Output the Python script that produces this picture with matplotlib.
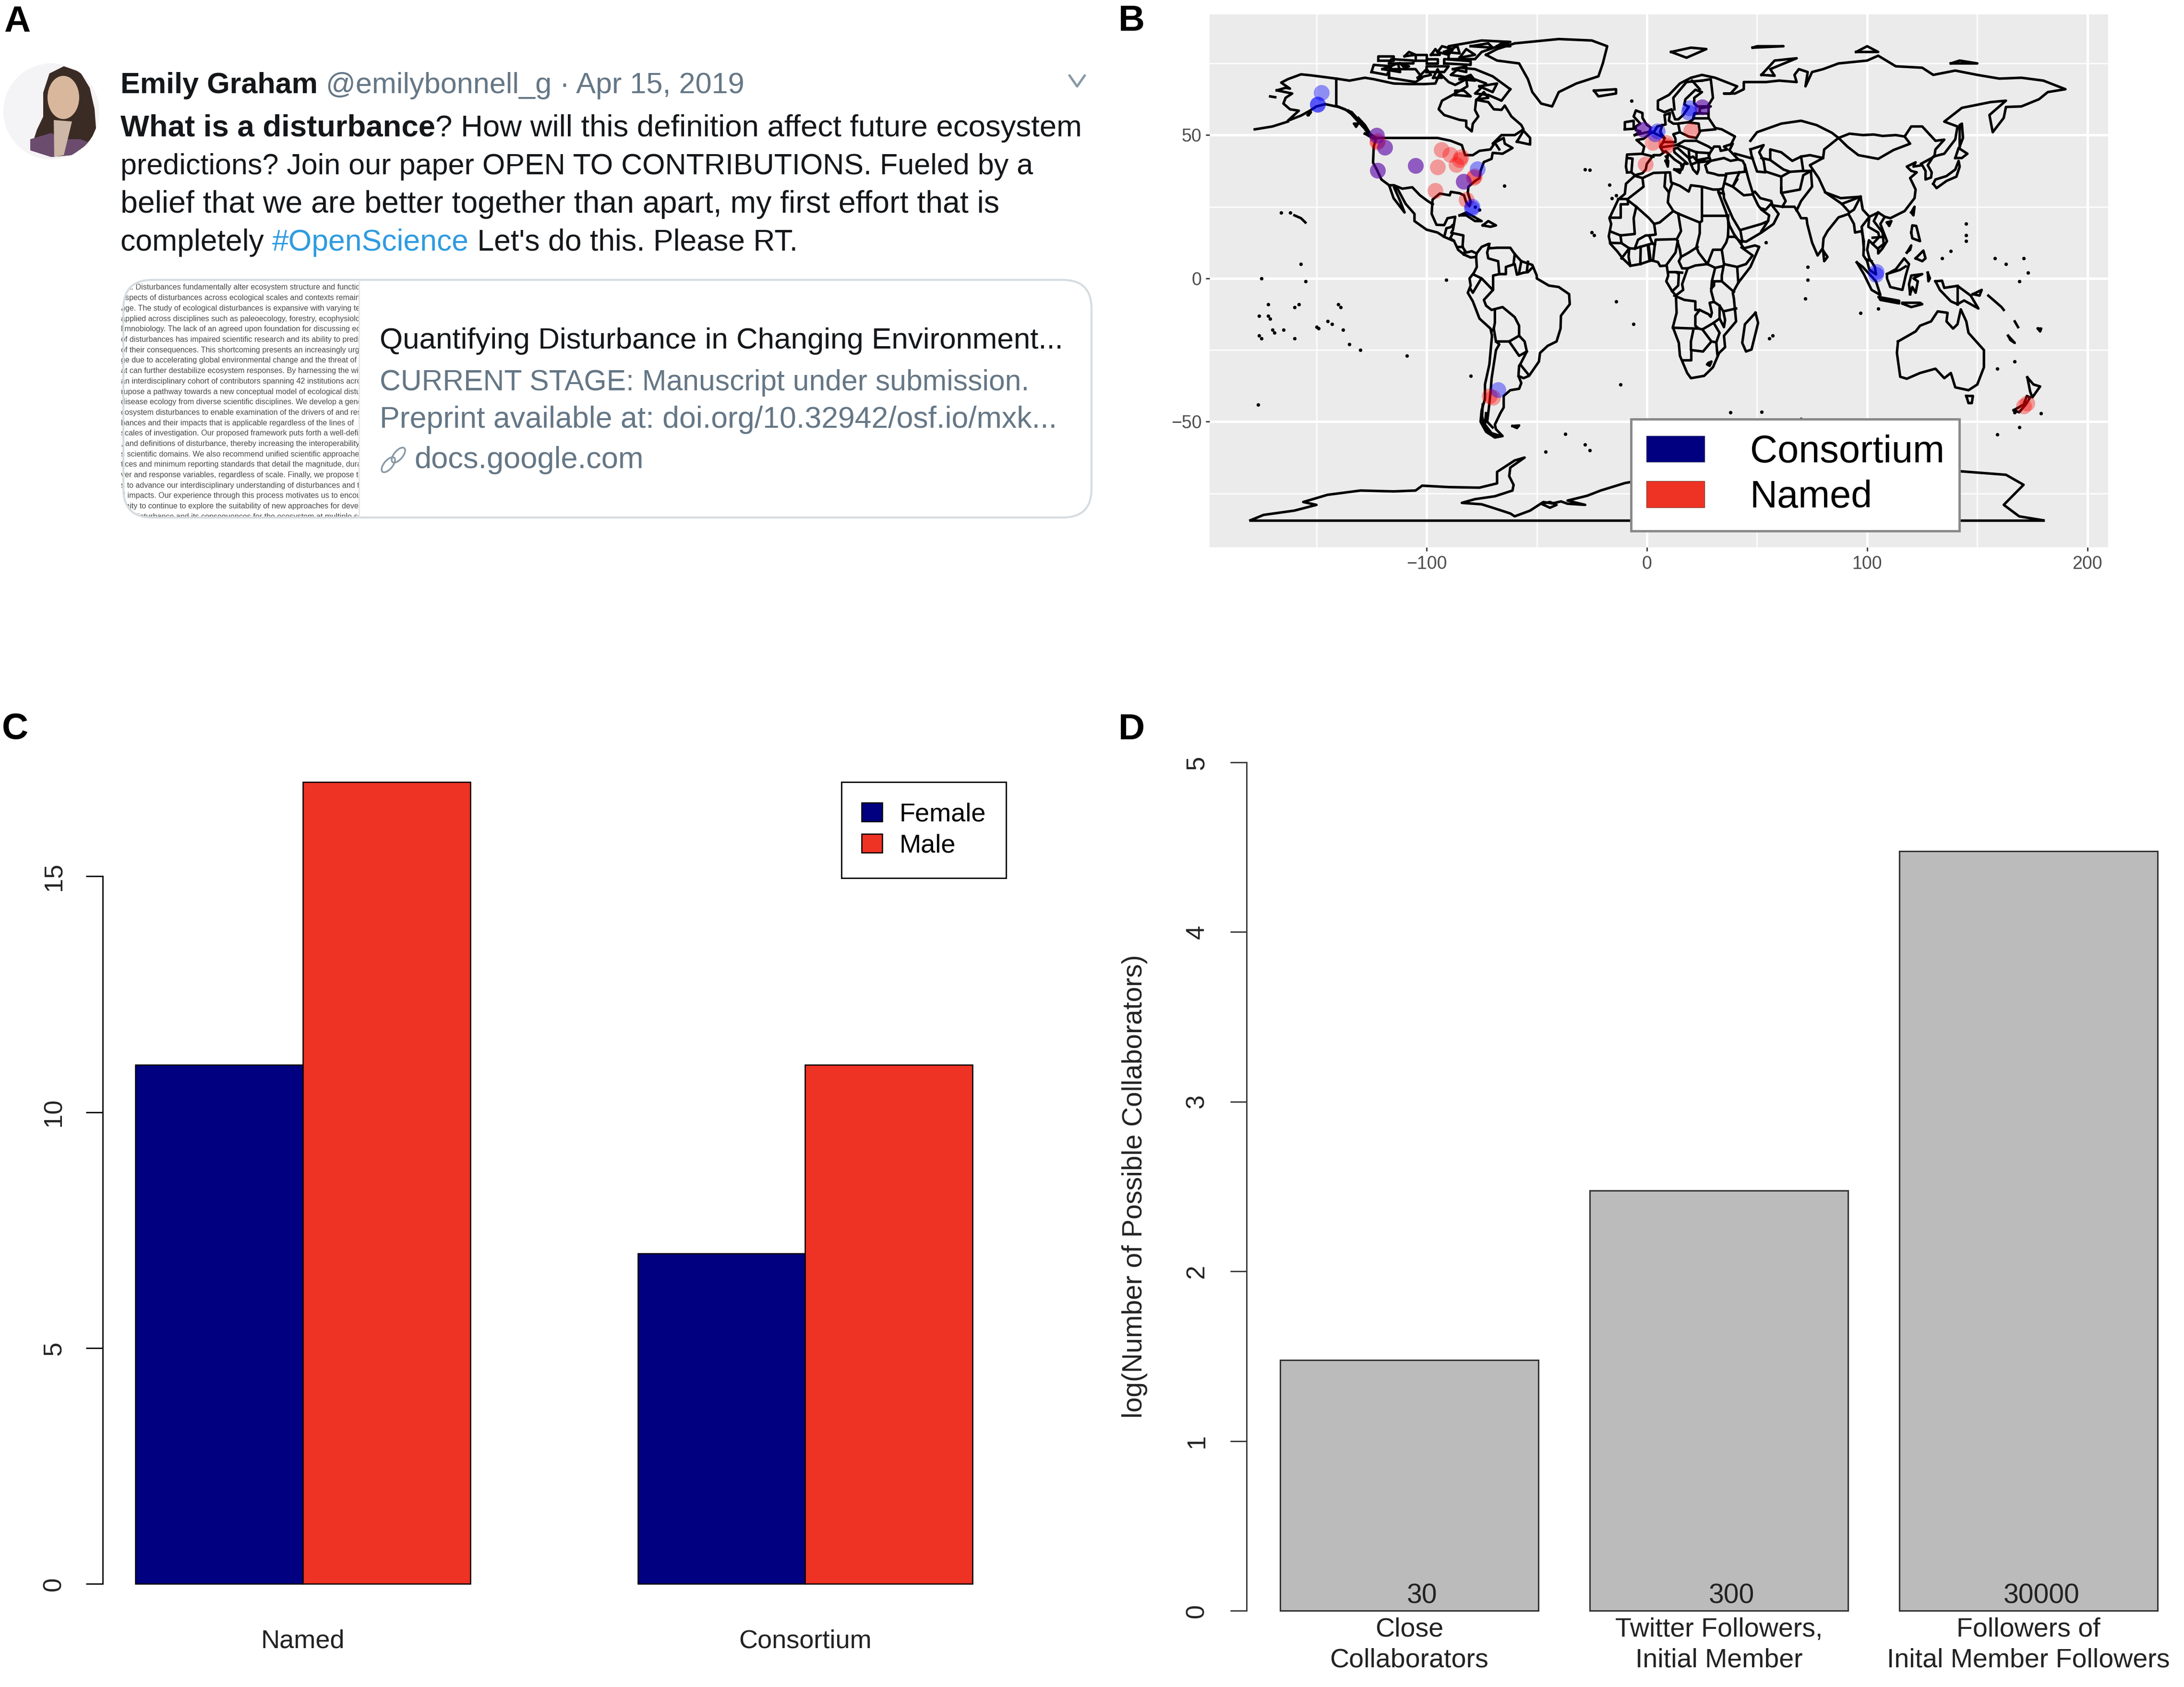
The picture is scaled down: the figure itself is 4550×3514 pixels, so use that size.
import matplotlib
matplotlib.use('Agg')
import matplotlib.pyplot as plt
from matplotlib.patches import Patch, Circle, Ellipse, Polygon, FancyBboxPatch
from matplotlib.transforms import Bbox, TransformedBbox

plt.rcParams['font.family'] = ['Liberation Sans', 'DejaVu Sans']

W, H = 4550, 3514

# ---- panel C data
gender_groups = ['Named', 'Consortium']
female_counts = [11, 7]
male_counts = [17, 11]

# ---- panel D data
collab_labels = ['Close\nCollaborators', 'Twitter Followers,\nInitial Member',
                 'Followers of\nInital Member Followers']
collab_log = [1.477, 2.477, 4.477]
collab_counts = ['30', '300', '30000']

# ---- panel B data, (lon, lat)
consortium_sites = [(-147.7, 64.8), (-149.4, 60.6), (-149.4, 60.8), (-122.6, 49.9), (-119, 45.7),
                    (-122.2, 37.7), (-105, 39.4), (-83.2, 33.8), (-77, 38.2), (-79.3, 25.1),
                    (-79.6, 24.5), (-1.5, 51.9), (4.8, 51.4), (3.6, 50.4), (19.4, 59.5), (19.0, 58.0),
                    (25, 59.8), (103.9, 1.4), (104.2, 2.4), (-67.5, -38.9)]
named_sites = [(-122.6, 49.9), (-122.2, 48), (-122.4, 47.6), (-119, 45.7), (-122.2, 37.7), (-105, 39.4),
               (-93.2, 44.9), (-95, 38.9), (-96, 30.7), (-89.3, 43.2), (-84.3, 42.4), (-85, 41.4),
               (-86.5, 39.7), (-83.2, 33.8), (-78.2, 35.7), (-78.6, 35.2), (-82, 27.4), (-1.5, 51.9),
               (2.6, 47.4), (8.7, 47.4), (8.9, 46.2), (-0.7, 39.9), (25, 59.8), (20, 51.6),
               (-70, -41.5), (-71.5, -41), (172.5, -43.5), (171, -44.5)]

# coastlines
coast_north_america = [
    (-168, 65.6), (-164, 66.5), (-162, 66.2), (-166, 68.3), (-163, 69.5), (-157, 71.2), (-152, 70.8),
    (-141, 69.7), (-135, 69), (-128, 70), (-124, 69.5), (-115, 68), (-108, 67.8), (-101, 67.8), (-96, 68),
    (-94, 71.5), (-90, 68.5), (-87, 67.5), (-82, 69.5), (-81.5, 67), (-87, 64.5), (-93, 62), (-94.5, 59),
    (-92, 57), (-85, 55.3), (-82, 55), (-82, 52.9), (-79.5, 51.3), (-79, 54), (-76.5, 56.5), (-78, 58.7),
    (-77.5, 62.3), (-72, 61.5), (-69.5, 59), (-66, 58.8), (-64.5, 60.3), (-61.5, 56.5), (-57, 53.5),
    (-56, 52), (-60, 50), (-66, 50), (-70, 47), (-65, 49), (-64.5, 47), (-61, 45.5), (-65.5, 43.5),
    (-70, 43.8), (-70.5, 41.7), (-74, 40.6), (-75.5, 37.5), (-76, 35), (-78, 34), (-81, 32), (-81.3, 30),
    (-80, 26.8), (-80.5, 25.2), (-82, 26.5), (-83, 29), (-85, 29.7), (-89, 30.2), (-89.5, 29), (-94, 29.6),
    (-97.3, 27.5), (-97.7, 22.5), (-95.5, 18.7), (-92, 18.6), (-90.5, 21), (-87, 21.5), (-88, 17),
    (-88.8, 15.9), (-83.3, 15), (-83.7, 11), (-82, 9), (-79.5, 9.5), (-77.3, 8.7), (-77.5, 7.5), (-80, 7.3),
    (-83, 8.3), (-85.7, 10), (-87.5, 13), (-92, 14.5), (-95, 16), (-100, 17), (-105.5, 20), (-105.5, 22.5),
    (-109.5, 26), (-113, 31), (-114.8, 31.8), (-112, 27), (-110, 23), (-112, 25), (-115, 28), (-117, 32.5),
    (-120.5, 34.5), (-122.5, 37.8), (-124.3, 40.4), (-124, 46), (-122.8, 49), (-127, 51), (-130.5, 55),
    (-134, 58), (-140, 59.8), (-146, 60.8), (-150, 60), (-153, 58.5), (-157, 56.8), (-163, 55), (-158, 58.5),
    (-162, 59), (-165, 61), (-164, 63), (-161, 64.5), (-168, 65.6)]
coast_south_america = [
    (-77.3, 8.7), (-75, 11), (-72, 12), (-71.5, 10.5), (-68, 10.7), (-62, 10.7), (-60, 8.5), (-57, 6),
    (-52, 4.7), (-50, 1), (-50, 0), (-44.5, -2.5), (-40, -3), (-35.3, -5.5), (-35, -9), (-39, -13),
    (-39.2, -17.5), (-41, -22), (-45, -23.5), (-48.5, -26), (-49, -29), (-53.5, -34), (-56, -34.8),
    (-58.3, -34), (-57, -36.5), (-58, -38.5), (-62, -39), (-65, -41), (-65, -45), (-66.5, -47), (-69, -51),
    (-68.5, -52.6), (-65.5, -55), (-69, -55.5), (-73, -53.5), (-75.5, -50), (-75, -46), (-73.5, -42),
    (-73.5, -37), (-71.5, -30), (-70.3, -20), (-71, -17.5), (-76, -14), (-79, -8), (-81.3, -5), (-80, -2.5),
    (-80.5, 0), (-78.5, 2), (-77.2, 4), (-77.5, 7.5)]
coast_eurasia = [
    (-9, 37), (-9.5, 39), (-9, 43.2), (-2, 43.5), (-1.2, 46), (-4.7, 48.3), (-1.5, 48.7), (1.5, 50.5),
    (3.5, 51.4), (4.7, 53), (8.5, 53.7), (8, 57), (10.5, 57.7), (10, 55), (12, 54), (14, 54), (19, 54.5),
    (21, 55.5), (21.5, 57.5), (24, 57.5), (24, 59.3), (29, 60), (23, 60), (21.5, 61), (21.5, 63), (25, 65),
    (22, 65.8), (17.5, 62.5), (17, 60.7), (19, 59.8), (16.5, 57), (14.3, 55.5), (12.8, 55.5), (11.2, 59),
    (8, 58), (5, 59), (5, 62), (10, 64), (15, 68), (20, 70), (25, 71), (31, 70), (41, 67), (38, 64.5),
    (35, 64.5), (40, 64.5), (44, 66), (44, 68.5), (54, 68.5), (60, 69), (68, 68.5), (67, 71), (69, 73),
    (73, 72), (72, 67), (75, 72), (80, 73), (87, 75), (100, 76), (105, 77.7), (113, 74), (125, 73.5),
    (130, 71), (140, 72.5), (150, 71), (160, 69.7), (170, 70), (180, 69), (190, 66), (182, 65), (178, 62.5),
    (170, 60), (163, 59.8), (162, 56), (157, 51), (155.5, 57), (163, 62), (156, 61.5), (143, 59.5),
    (135, 54.7), (141, 53), (140, 48.5), (135, 43.5), (130, 42.5), (127.5, 39.5), (129.3, 37), (129, 35.2),
    (126.5, 34.5), (126.5, 37.5), (125, 39.5), (121, 39), (122, 40.5), (118, 39), (120, 37.5), (122.5, 37),
    (119.5, 35), (122, 31), (121.5, 28), (117, 23.5), (110.5, 21), (108, 21.5), (106, 19), (109, 13),
    (107, 10.5), (105, 8.7), (105, 10.2), (102.5, 12), (100.8, 13.3), (100, 10), (101, 7), (103.5, 4),
    (104, 1.4), (101, 3), (100, 6), (98.3, 8), (98.5, 13), (97.5, 16.5), (94.5, 16), (94, 19), (91.5, 22.5),
    (89, 21.8), (87, 21.3), (82, 16.5), (80.2, 14), (79.8, 10.5), (77.5, 8), (75, 12.5), (72.8, 19),
    (72.5, 21), (70, 21), (69, 22.5), (67, 25), (61.5, 25), (57, 25.5), (56.5, 27), (51.5, 28), (49, 30.3),
    (48, 29.5), (50.5, 25.5), (51.5, 24.5), (54, 24), (56.3, 26), (59.8, 22.5), (57.5, 19), (52, 16),
    (45, 12.8), (43.3, 13), (42.5, 16.5), (39, 21), (35, 28), (34.9, 29.5), (32.5, 30), (32.5, 31),
    (34.5, 31.3), (36, 36), (32.5, 36), (30.5, 36.5), (27.5, 37), (26.5, 39.5), (29, 41), (35, 42), (38, 41),
    (41.5, 41.5), (37.5, 44.7), (39, 47), (35, 46), (36.5, 45), (33.5, 44.5), (33, 46), (30.5, 46), (28, 43),
    (29, 41), (26, 40.7), (23.5, 40.5), (23.5, 38), (22.8, 36.5), (21, 38), (19.5, 41), (19, 42), (14, 45.5),
    (12.3, 45.3), (12.5, 44), (16, 41.7), (18.5, 40), (16.8, 40), (16, 38), (15.5, 40), (12.5, 41.5),
    (10.5, 43), (8.5, 44.4), (6, 43), (3, 43), (0, 40), (-0.5, 38), (-2, 36.7), (-5.5, 36), (-7, 37), (-9, 37)]
coast_africa = [
    (32.5, 31), (30, 31), (25, 32), (20, 32.5), (19, 30.3), (15, 32.3), (11, 33.5), (10.5, 37), (3, 36.8),
    (-2, 35), (-5.5, 35.8), (-9.5, 33), (-10, 29.5), (-13, 27.5), (-17, 21), (-16.2, 19), (-17.3, 14.7),
    (-16.5, 12), (-13.5, 9.5), (-11, 7), (-7.5, 4.4), (-3, 5), (2, 6.3), (5, 5.7), (6, 4.3), (9, 4.5),
    (9.7, 1), (8.8, -1), (11.5, -4.5), (13.2, -6), (13.5, -12), (11.8, -17), (14.5, -22.5), (15, -27),
    (18.3, -33), (20, -34.8), (26, -34), (30, -31), (32.8, -26), (35.5, -24), (35, -20), (40.5, -15),
    (39.5, -7), (39, -5), (41.5, -1.5), (47, 4), (51, 11), (49, 11.5), (44, 10.5), (43, 11.7), (39.5, 15.5),
    (37.5, 18.5), (36, 23), (33.5, 28), (32.5, 30), (32.5, 31)]
coast_australia = [
    (114, -22), (113.5, -26), (115, -34.3), (118, -35), (124, -33), (131, -31.5), (135, -34.8), (138, -33),
    (140, -38), (146, -39), (150, -37), (153, -31), (153, -25), (146, -19), (145, -15), (142.5, -10.8),
    (141, -16), (139, -17.5), (136, -15), (136.5, -12), (132, -11.5), (129, -15), (124, -16.5), (122, -18.5),
    (114, -22)]
coast_antarctica_base = [(180, -84.4), (-180, -84.4)]
coast_antarctica = [
    (-180, -84.4), (-174, -82.5), (-160, -81), (-150, -79), (-156, -78), (-145, -75.5), (-130, -74),
    (-115, -74.3), (-105, -74), (-102, -72.3), (-90, -72.8), (-76, -73), (-68, -71.5), (-68, -67.5),
    (-60, -63.5), (-55.5, -62.5), (-62, -66), (-62.5, -69), (-60.5, -72), (-61, -74), (-69, -76), (-78, -77),
    (-84, -78.3), (-75, -78.8), (-70, -80), (-62, -82), (-60, -83), (-53, -81), (-47, -78), (-43, -78.5),
    (-39, -77.8), (-36, -78.6), (-28, -79), (-36, -77.5), (-27, -75.8), (-21, -74), (-10, -71.4), (0, -70),
    (20, -70), (40, -69), (60, -67), (70, -68), (90, -66), (120, -66), (146, -67.5), (163, -68.5), (171, -72),
    (162, -79), (169, -83), (180, -84.4)]
islands = [
    [(-73, 78), (-68, 80), (-60, 82), (-40, 83.5), (-25, 83), (-18, 81), (-20, 75), (-22, 70.5), (-32, 68),
     (-40, 65), (-43, 60), (-48, 61), (-52, 65), (-54, 69.5), (-58, 75), (-68, 76), (-73, 78)],
    [(-62, 66), (-66, 62), (-72, 64), (-78, 64.5), (-73, 68), (-80, 70), (-89, 71), (-85, 73.5), (-78, 73),
     (-70, 70.5), (-62, 66)],
    [(-117, 70), (-105, 68.5), (-102, 70), (-105, 73), (-117, 73), (-117, 70)],
    [(-125, 72), (-118, 71), (-116, 74), (-124, 74.5), (-125, 72)],
    [(-90, 76.5), (-78, 76.5), (-75, 79), (-62, 82.5), (-75, 83), (-90, 81), (-90, 76.5)],
    [(-92, 75), (-80, 74.5), (-80, 75.8), (-92, 76.5), (-92, 75)],
    [(-95, 79), (-90, 78), (-88, 80), (-93, 81), (-95, 79)],
    [(-117, 75), (-106, 75), (-106, 76), (-116, 76.5), (-117, 75)],
    [(-100, 72), (-92, 72), (-90, 74), (-100, 74), (-100, 72)],
    [(-122, 76), (-115, 76), (-115, 77.5), (-122, 77.5), (-122, 76)],
    [(-105, 76), (-100, 76), (-100, 78), (-105, 78), (-105, 76)],
    [(-100, 75), (-95, 75), (-95, 76.5), (-100, 76.5), (-100, 75)],
    [(-87, 64), (-80, 63.5), (-83, 65.5), (-87, 65.5), (-87, 64)],
    [(-59, 47.7), (-53, 46.7), (-53, 49), (-56, 51.5), (-59, 47.7)],
    [(-85, 22), (-82, 23), (-75, 20), (-78, 20), (-82, 22), (-85, 22)],
    [(-74.5, 18.5), (-72, 20), (-68.5, 18.5), (-71, 18), (-74.5, 18.5)],
    [(-128, 50.5), (-123.5, 48.5), (-125, 50), (-128, 50.5)],
    [(-160, 22), (-157, 21), (-155, 19.5)],
    [(-5.5, 50), (1.3, 51.2), (1.7, 52.7), (0, 53.5), (-2, 56), (-2, 57.7), (-5, 58.6), (-6, 56.5), (-3, 54),
     (-5, 53), (-5, 51.7), (-3, 51.3), (-5.5, 50)],
    [(-10, 52), (-6, 52.2), (-6, 55), (-10, 54.5), (-10, 52)],
    [(-24, 65.5), (-14, 66), (-14, 64.5), (-22, 63.5), (-24, 65.5)],
    [(11, 79), (20, 80.5), (27, 80), (18, 77), (11, 79)],
    [(48, 80.5), (62, 81), (50, 81), (48, 80.5)],
    [(52, 71), (58, 70.7), (56, 73), (68, 76.8), (58, 76), (52, 71)],
    [(95, 79), (105, 79), (100, 81), (95, 79)],
    [(138, 75), (150, 75), (142, 76), (138, 75)],
    [(142, 46), (143.5, 49), (143, 54), (142, 53.5), (142, 46)],
    [(130, 33), (131, 34.5), (136, 35.7), (140, 38), (141.5, 41), (142, 39), (140.5, 35.5), (136, 34),
     (131.5, 31.5), (130, 33)],
    [(140, 42), (141.5, 45.5), (145.5, 43.5), (143, 42), (140, 42)],
    [(120, 23), (121.5, 25), (121, 22), (120, 23)],
    [(109, 19.5), (111, 20), (110, 18.3), (109, 19.5)],
    [(120, 16), (120.5, 18.5), (122.3, 18.3), (124, 13), (120.5, 14), (120, 16)],
    [(122, 7), (125.5, 9.7), (126.5, 7), (125, 6), (122, 7)],
    [(118, 9), (120, 11.5), (119.5, 10), (118, 9)],
    [(109, 1.5), (113, 3.2), (116.8, 7), (119, 5), (117.5, 1), (116, -4), (110.5, -3), (109, 0), (109, 1.5)],
    [(95.3, 5.6), (98, 4), (104, -1), (106, -5.8), (102, -4), (98.5, 1.5), (95.3, 5.6)],
    [(105.3, -6.5), (114.5, -7.8), (114.5, -8.7), (106, -7.5), (105.3, -6.5)],
    [(116, -8.5), (119, -8.5), (124, -8.5), (125, -9), (120, -10), (116, -8.8)],
    [(119.5, -5.5), (119, -2), (120, 1), (125, 1.5), (121, 0), (123, -1), (122, -5), (120.5, -3), (119.5, -5.5)],
    [(127.5, 2), (128.5, 0), (127.8, -1), (127.5, 2)],
    [(131, -1), (134, -0.8), (135, -3.3), (141, -2.6), (147, -6), (150.5, -10.5), (144, -7.7), (141, -9),
     (138, -8), (133, -4), (131, -1)],
    [(148, -5.5), (152, -4), (151, -6), (148, -5.5)],
    [(155, -6), (161, -10), (162, -11)],
    [(164, -20), (167, -22.5), (165, -21.5), (164, -20)],
    [(167, -15), (168.5, -17)],
    [(177.5, -17.5), (179, -17.5), (178.5, -18.5), (177.5, -17.5)],
    [(145, -41), (148, -41), (147.5, -43.5), (146, -43.5), (145, -41)],
    [(166.5, -46), (171, -44), (172.5, -41), (174, -41.5), (172, -44), (169, -46.7), (166.5, -46)],
    [(172.7, -34.5), (175.5, -37), (178.5, -37.7), (175, -41.5), (174, -39.5), (172.7, -34.5)],
    [(49.3, -12), (50.5, -15.5), (47.5, -24.8), (45, -25.5), (43.3, -22.5), (44.5, -16), (49.3, -12)],
    [(80, 9.7), (82, 7.5), (80.5, 6), (80, 9.7)],
    [(-61, -51.5), (-58, -51.3), (-59, -52.2), (-61, -51.5)],
    [(-48, -78.6), (-44, -78), (-41, -79), (-44, -80), (-48, -78.6)],
    [(8.5, 41), (9.7, 41), (9.5, 39), (8.5, 41)],
    [(12.5, 38), (15.5, 38), (15, 36.8), (12.5, 38)],
    [(8.7, 42.5), (9.5, 43), (9.3, 41.5), (8.7, 42.5)],
    [(-178, 52), (-170, 53), (-163, 54.7)],
    [(-171, 63.5), (-168.7, 63.2)],
    [(-154, 57), (-152.5, 58), (-153.5, 57)],
    # Canadian Arctic, small islands packed tight
    [(-112, 75), (-108, 74), (-110, 73.5), (-112, 75)],
    [(-97, 70), (-93, 70), (-95, 73), (-97, 70)],
    [(-88, 73), (-82, 72), (-82, 74), (-88, 73)],
    [(-110, 77.5), (-105, 78), (-108, 79), (-110, 77.5)],
    [(-98, 78), (-94, 78), (-96, 80), (-98, 78)],
    [(-85, 77), (-78, 78), (-82, 80), (-85, 77)],
    [(-80, 81), (-70, 80.5), (-72, 82), (-80, 81)],
    [(-85, 69.5), (-78, 69), (-80, 71), (-85, 69.5)],
    [(-76, 67), (-70, 65), (-68, 68), (-76, 67)],
    [(-120, 73), (-112, 72), (-113, 75), (-120, 73)],
    [(-92, 79), (-85, 78.5), (-86, 81), (-92, 79)],
    [(-68, 81), (-62, 81), (-65, 82.5), (-68, 81)],
    [(-104, 70), (-98, 71), (-100, 73), (-104, 70)],
    [(-77, 62.5), (-72, 63), (-74, 65), (-77, 62.5)],
    # fjord coasts
    [(-74.5, -44), (-74.8, -48), (-74, -51), (-72, -54), (-67, -55)],
    [(-73, -47), (-73.5, -51), (-70.5, -54), (-67.5, -54.7)],
    [(-125, 50), (-129, 53), (-132, 55.5), (-135.5, 58.5)],
    [(-126, 51), (-128, 53.5), (-131, 56)],
    [(-132, 53), (-131, 54), (-133, 54), (-132, 53)],
]
borders = [
    # North America
    [(-141, 69.7), (-141, 60.2), (-137, 59), (-130, 55)],
    [(-123, 49), (-95, 49), (-89, 48), (-84, 46.5), (-82.5, 43), (-79, 43), (-76, 44.5), (-71, 45), (-69, 47.3), (-67, 45)],
    [(-117, 32.5), (-114.8, 32.5), (-111, 31.3), (-106.5, 31.8), (-103, 29), (-99.5, 27), (-97.2, 25.9)],
    [(-92, 14.5), (-91, 17.5), (-89, 17.9), (-88.3, 18.5)],
    [(-88, 15.8), (-89.3, 14), (-87.7, 13.2)],
    [(-85.7, 11), (-83.7, 11)],
    [(-83, 8.3), (-82.7, 9.6)],
    # South America
    [(-51.7, 4), (-54, 2.2), (-56, 2), (-59, 1.3), (-60, 5), (-64, 4), (-64, 1.5), (-67, 1.5), (-69.8, 1), (-69.8, -4),
     (-74, -7.5), (-73, -9.5), (-70.5, -11), (-65.5, -10), (-60, -13.5), (-58, -16.5), (-58, -20), (-55.5, -22),
     (-54.5, -25.5), (-57.5, -30), (-53.5, -33.8)],
    [(-71.5, 12), (-72.5, 9), (-72, 7), (-67.5, 6), (-67, 1.5)],
    [(-60, 8.5), (-60.5, 5.2)],
    [(-57, 6), (-58, 2)],
    [(-54, 5.8), (-54.5, 2.3)],
    [(-78.8, 1.4), (-75, 0), (-70, -4)],
    [(-80.3, -3.4), (-79, -5), (-75.3, -0.2)],
    [(-69, -11), (-69, -15.5), (-69.5, -17.5), (-70.4, -18.3)],
    [(-69.5, -17.5), (-68.5, -22), (-67, -23), (-68.5, -25), (-69.5, -30), (-70.5, -35), (-71, -40), (-71.7, -45),
     (-72.5, -50), (-70, -52)],
    [(-68.5, -22), (-65, -22), (-62.5, -22), (-58, -20)],
    [(-62.5, -22), (-58, -27), (-54.5, -25.5)],
    [(-58.3, -34), (-58, -30.5), (-57.5, -30)],
    # Africa
    [(-2, 35), (-1.5, 32), (-8.7, 27.7), (-13, 27.7)],
    [(-8.7, 27.7), (-8.7, 26), (-12, 26), (-12, 21.3), (-17, 21.3)],
    [(-8.7, 27.3), (-4.8, 25), (-6, 21), (-5.5, 15.5), (-12, 15), (-16.3, 16.3)],
    [(-4.8, 25), (1, 21), (3.3, 19), (5.8, 19.5), (12, 23.5), (9.5, 26.5), (10, 30), (8, 32), (8.5, 36.8)],
    [(11.5, 33), (10, 30)],
    [(12, 23.5), (14.2, 22.6), (24, 19.5), (25, 20), (25, 31.5)],
    [(25, 22), (36.8, 22)],
    [(24, 19.5), (24, 15.7), (22.5, 11), (23.5, 9), (27.5, 5)],
    [(14.2, 22.6), (15.5, 16.5), (13.6, 13.7), (4, 13.5), (3.6, 11.7), (2.8, 6.4)],
    [(3.3, 19), (4, 15.3), (1, 15), (2.5, 12.2), (3.6, 11.7)],
    [(14, 13), (13, 9), (8.7, 4.5)],
    [(13.6, 13.7), (15, 10), (15.5, 7.5), (14.5, 6), (16, 3.5), (18.5, 3.5), (22, 4.5), (27.5, 5), (31, 3.7),
     (29.5, -1), (29.2, -4.5), (30.5, -8.2), (28.5, -8.5), (29.5, -12), (29, -13.4), (28, -12.5), (24, -11),
     (22, -11), (22, -8), (17, -7.5), (12.5, -6)],
    [(15.5, 7.5), (19, 9), (23, 11)],
    [(-12, 15), (-11.5, 12.3), (-8, 10.5), (-5.5, 10.4), (-3, 11), (2.5, 12.2)],
    [(-16.7, 12.4), (-11.5, 12.3)],
    [(-11.5, 7), (-10, 8.5), (-8, 10.5)],
    [(-7.5, 4.4), (-8.3, 7.5), (-8, 10.5)],
    [(-3, 5), (-2.8, 11)],
    [(1.2, 6.1), (0.5, 11)],
    [(1.7, 6.2), (0.9, 11)],
    [(-5.5, 10.4), (-4, 13.5), (-0.5, 15), (1, 15)],
    [(9.7, 2.2), (13.3, 2.2), (14.5, 1.5), (14.2, -2.5), (11.5, -4.5)],
    [(13.3, 2.2), (16, 2)],
    [(18.5, 3.5), (16, -2), (16.5, -4), (13.2, -5.9)],
    [(36.8, 22), (37, 18), (36.8, 14.5), (36, 12.5), (34, 10), (35, 5), (41, 4), (41.5, -1.5)],
    [(41, 4), (45, 5), (48, 8), (43, 10.8)],
    [(43, 12.5), (40, 14.5), (36.8, 14.5)],
    [(35, 5), (34, 1), (34, -1), (39.5, -4.7)],
    [(34, -1), (30.5, -1), (30.5, -2.5), (29.3, -3.5)],
    [(31, 3.7), (34, 4.2)],
    [(27.5, 5), (30, 10), (34, 10)],
    [(30.5, -8.2), (33, -9.5), (34.7, -11.5), (40.5, -10.5)],
    [(33, -9.5), (33, -14), (35, -17), (35.5, -14.5), (34.7, -11.5)],
    [(33, -14), (30.3, -15.5), (33, -19), (31.5, -22.3), (32, -26.5)],
    [(30.3, -15.5), (25.2, -17.8), (23.5, -17.5), (22, -16.5), (22, -13), (24, -11)],
    [(11.8, -17.2), (18.5, -17.4), (23.5, -17.5)],
    [(25.2, -17.8), (29.3, -22), (25.5, -25.5), (20, -25), (20, -22), (21, -18.3)],
    [(20, -25), (20, -28.5), (16.5, -28.5)],
    [(29.3, -22), (31.5, -22.3)],
    [(28, -29.5), (29.3, -29), (28.5, -30.5), (27.3, -30), (28, -29.5)],
    # Europe
    [(-8.8, 42), (-6.5, 41.8), (-7, 37.2)],
    [(-1.8, 43.4), (3, 42.5)],
    [(2.5, 51), (8, 49), (7.5, 47.6), (6, 46), (7.5, 44)],
    [(7, 53.5), (6, 51), (8, 49)],
    [(7.5, 47.6), (13, 47.5), (13, 48.7), (12, 50.3), (15, 51), (14.2, 54)],
    [(7, 45.8), (13.5, 46.5)],
    [(15, 51), (19, 49.5), (22.5, 49), (24, 51), (23.5, 54), (19, 54.4)],
    [(24, 51.5), (31, 52)],
    [(21, 56), (28, 56)],
    [(22, 57.7), (27.5, 57.5)],
    [(28, 60.5), (28, 56), (31, 52.5), (34, 52), (40, 49.5), (38.5, 47.2)],
    [(22.5, 48), (28, 46), (29.5, 45.2)],
    [(22.5, 48), (17, 48), (13.5, 46.5), (16, 46), (19, 45), (22.5, 44)],
    [(22.5, 44), (28.5, 43.7), (28, 42), (22.5, 41.2), (22.5, 44)],
    [(20, 39.7), (26, 41.5)],
    [(19.3, 42), (21, 42.5), (22.5, 41.2)],
    [(19, 45), (19.3, 42)],
    [(25, 69), (29, 69.5), (30, 63), (28, 60.5)],
    [(12.5, 59), (12, 63), (18, 68.5), (25, 69)],
    [(24, 66), (20.5, 69)],
    # Asia
    [(47, 48), (50, 51), (61, 54), (70, 55), (77, 53.5), (84, 50.8), (87, 49)],
    [(87, 49), (92, 50.5), (98, 50), (103, 50.2), (107, 49.7), (113, 50), (117, 49.5), (119.5, 47), (112, 44.8),
     (105, 41.7), (96, 43), (91, 46), (87, 49)],
    [(117, 49.5), (120, 53), (125, 53), (131, 48), (135, 48.4), (131, 45), (130.5, 42.5), (124.5, 40)],
    [(87, 49), (80.5, 45), (80, 42), (74, 39.5), (78, 35), (81, 30), (88, 28), (97, 28.5), (98, 24), (101, 21.5),
     (105, 23), (108, 21.5)],
    [(74.5, 37), (75, 32), (70, 27), (68, 23.7)],
    [(61.5, 25), (63, 27), (61, 30), (61, 31.5)],
    [(74.5, 37.5), (71, 36), (69.5, 31), (61, 29.8), (61, 35.5), (65, 37.2), (71, 37.5), (74.5, 37.5)],
    [(53.8, 37.3), (61, 35.5)],
    [(52, 42), (56, 41.3), (56, 45), (61, 44), (66, 41), (70, 42.5), (74, 43), (80, 42)],
    [(56, 41.3), (62, 38), (65, 37.2)],
    [(70, 42.5), (71, 37.5)],
    [(44.5, 39.5), (46, 35), (48, 30)],
    [(48, 29.3), (44, 29), (39, 32), (42, 37)],
    [(36, 36.5), (42, 37), (44.5, 37.2), (44.5, 39.5), (43.5, 41), (41.5, 41.5)],
    [(43, 17), (52, 19), (55, 20), (55.5, 22), (52, 24)],
    [(52, 16.5), (55, 20)],
    [(36, 33), (39, 32), (41, 34.5)],
    [(34.3, 31.3), (34.9, 29.5)],
    [(40, 43.5), (48, 41.8)],
    [(47, 45), (53, 46.5), (51, 44), (53, 41), (53.8, 37), (50, 37.3), (49, 39.5), (47.5, 43), (47, 45)],
    [(92, 23), (88.5, 26), (81, 30)],
    [(88.5, 26), (97, 28.5)],
    [(92, 23), (94, 24), (97, 28.5)],
    [(98.5, 10), (98, 15), (97.5, 18), (101, 21.5), (100.5, 18), (105, 16), (105.5, 14.5), (102.5, 12)],
    [(105, 23), (103, 20), (107, 16), (107.5, 12), (105, 10.5)],
    [(102.5, 14.2), (107.5, 14.5)],
    [(100.2, 6.5), (102, 6)],
    [(109.5, 1.7), (115, 3), (117.5, 4.2)],
    [(141, -2.6), (141, -9)],
]
small_islands = [
    (-157, 5), (-155, -1), (-171, -14), (-172, -13), (-170, -18), (-176, -20), (-175, -21), (-160, -21),
    (-150, -17), (-149, -17.5), (-140, -9), (-139, -10), (-145, -15), (-143, -16), (-138, -18), (-135, -23),
    (-130, -25), (-109, -27), (-80, -34), (-176.5, -44), (-28, -58), (-26, -60), (-46, -60.5), (-37, -54.3),
    (-14, -8), (-6, -16), (-12, -37), (-91, -0.5), (-25, 16), (-24, 15), (-16, 28), (-14, 29), (-17, 32.7),
    (-28, 38), (-26, 37.8), (-64.7, 32.3), (-78, 25), (-76, 24), (70, -49), (52, -46.5), (38, -46.8), (57, -20),
    (55.5, -21), (73, 4), (73, -0.5), (72, -7), (97, -12), (105, -10.5), (158, 7), (163, 5), (171, 7), (173, 2),
    (169, -1), (145, 15), (145, 13), (167, -46.8), (169, -52), (159, -54.5), (179, -47), (145, 19), (54, 12.5),
    (-7, 62), (134, 7), (138, 9.5), (-166, 23), (-162, 23), (-175, 0), (-176, -13), (-172, -9), (-160, -10),
    (-158, -9), (-165, -18), (-169, -19), (167, -29), (159, -31.5)]

# ---- panel A text
tweet_lines = [
    [('What is a disturbance', 'bold', '#14171A'), ('? How will this definition affect future ecosystem', 'normal', '#14171A')],
    [('predictions? Join our paper OPEN TO CONTRIBUTIONS. Fueled by a', 'normal', '#14171A')],
    [('belief that we are better together than apart, my first effort that is', 'normal', '#14171A')],
    [('completely ', 'normal', '#14171A'), ('#OpenScience', 'normal', '#2F9BE0'), (" Let's do this. Please RT.", 'normal', '#14171A')],
]
preprint_lines = [
    'act. Disturbances fundamentally alter ecosystem structure and function',
    'aspects of disturbances across ecological scales and contexts remain',
    'nge. The study of ecological disturbances is expansive with varying terms',
    'applied across disciplines such as paleoecology, forestry, ecophysiology',
    'limnobiology. The lack of an agreed upon foundation for discussing ecological',
    'of disturbances has impaired scientific research and its ability to predict',
    'of their consequences. This shortcoming presents an increasingly urgent',
    'ge due to accelerating global environmental change and the threat of',
    'at can further destabilize ecosystem responses. By harnessing the wisdom',
    'an interdisciplinary cohort of contributors spanning 42 institutions across',
    'rupose a pathway towards a new conceptual model of ecological disturbance',
    'disease ecology from diverse scientific disciplines. We develop a general',
    'cosystem disturbances to enable examination of the drivers of and responses',
    'bances and their impacts that is applicable regardless of the lines of',
    'scales of investigation. Our proposed framework puts forth a well-defined',
    ', and definitions of disturbance, thereby increasing the interoperability',
    's scientific domains. We also recommend unified scientific approaches',
    'tices and minimum reporting standards that detail the magnitude, duration',
    'ver and response variables, regardless of scale. Finally, we propose the',
    's to advance our interdisciplinary understanding of disturbances and their',
    'd impacts. Our experience through this process motivates us to encourage',
    'unity to continue to explore the suitability of new approaches for developing',
    '  of disturbance and its consequences for the ecosystem at multiple scales',
]

NAVY = '#000080'
RED = '#EE3224'
GRAY_TXT = '#657786'


def px_axes(l, t, r, b):
    return fig.add_axes([l / W, 1 - b / H, (r - l) / W, (b - t) / H])


fig = plt.figure(figsize=(W / 100, H / 100), dpi=100, facecolor='white')
renderer = fig.canvas.get_renderer()

# panel letters
for letter, x, y in [('A', 8, 66), ('B', 2330, 64), ('C', 4, 1539), ('D', 2330, 1540)]:
    fig.text(x / W, 1 - y / H, letter, fontsize=55, fontweight='bold', color='black', va='baseline')

# ---------- A: the tweet
ax_a = px_axes(0, 0, 2300, 1150)
ax_a.set_xlim(0, 2300)
ax_a.set_ylim(1150, 0)
ax_a.axis('off')

# avatar
avatar = Circle((107, 232), 100, facecolor='#F4F3F6', edgecolor='none')
ax_a.add_patch(avatar)
hair = Polygon([(133, 138), (167, 150), (187, 183), (197, 227), (200, 267), (187, 297), (150, 323), (107, 327),
                (63, 313), (77, 270), (90, 243), (90, 193), (103, 153)], facecolor='#3B2B25', edgecolor='none')
ax_a.add_patch(hair)
ax_a.add_patch(Ellipse((132, 203), 66, 90, facecolor='#D8B79C', edgecolor='none'))
shirt = Polygon([(63, 290), (107, 277), (127, 290), (167, 290), (187, 297), (150, 323), (107, 327), (63, 313)],
                facecolor='#6B4B6E', edgecolor='none')
ax_a.add_patch(shirt)
neck = Polygon([(112, 250), (150, 253), (133, 323), (113, 327)], facecolor='#CDB7A6', edgecolor='none')
ax_a.add_patch(neck)
for p in [hair, shirt, neck]:
    p.set_clip_path(avatar)


def put_runs(x, y, runs, size):
    for s, weight, colour in runs:
        t = ax_a.text(x, y, s, fontsize=size, fontweight=weight, color=colour, va='baseline')
        x += t.get_window_extent(renderer).width


put_runs(251, 194, [('Emily Graham', 'bold', '#14171A'), (' ', 'normal', GRAY_TXT),
                    ('@emilybonnell_g \u00b7 Apr 15, 2019', 'normal', GRAY_TXT)], 44)
for line, base, size in zip(tweet_lines, [284, 363, 443, 522], [45.7, 43.9, 46.4, 45]):
    put_runs(251, base, line, size)

# chevron
ax_a.plot([2228, 2244, 2260], [157, 180, 157], color='#8899A6', lw=3.5, solid_capstyle='round')

# link card, with the preprint thumbnail cut off at its right edge (agg clips text to boxes only)
thumb_box = TransformedBbox(Bbox([[252, 583], [748, 1078]]), ax_a.transData)
for i, line in enumerate(preprint_lines):
    t = ax_a.text(252, 599 + i * 21.7, line, fontsize=11.6, color='#4A4A4A', va='center', clip_on=True, zorder=2)
    t.set_clip_box(thumb_box)
# white corners so the thumbnail follows the card's rounding
ax_a.add_patch(Polygon([(245, 575), (317, 575), (317, 583), (295, 587), (275, 597), (262, 615), (257, 643), (245, 643)],
                       facecolor='white', edgecolor='none', zorder=3))
ax_a.add_patch(Polygon([(245, 1086), (317, 1086), (317, 1078), (295, 1074), (275, 1064), (262, 1046), (257, 1018), (245, 1018)],
                       facecolor='white', edgecolor='none', zorder=3))
ax_a.add_patch(FancyBboxPatch((317, 643), 1897, 375, boxstyle='round,pad=60,rounding_size=60',
                              facecolor='none', edgecolor='#D5DCE1', lw=3, zorder=4))
ax_a.plot([748, 748], [583, 1078], color='#E3E7EA', lw=2, zorder=4)

put_runs(791, 726, [('Quantifying Disturbance in Changing Environment...', 'normal', '#14171A')], 44.6)
put_runs(791, 813, [('CURRENT STAGE: Manuscript under submission.', 'normal', GRAY_TXT)], 43.7)
put_runs(791, 891, [('Preprint available at: doi.org/10.32942/osf.io/mxk...', 'normal', GRAY_TXT)], 45.1)
put_runs(863, 975, [('docs.google.com', 'normal', GRAY_TXT)], 45.5)
ax_a.add_patch(Ellipse((809, 968), 18, 38, angle=40, facecolor='none', edgecolor='#8899A6', lw=2.5))
ax_a.add_patch(Ellipse((830, 948), 18, 38, angle=40, facecolor='none', edgecolor='#8899A6', lw=2.5))

# ---------- B: the map
ax_b = px_axes(2520, 30, 4392, 1140)
ax_b.set_facecolor('#EBEBEB')
ax_b.set_xlim(-198.5, 209.4)
ax_b.set_ylim(-93.8, 92.1)
for s in ax_b.spines.values():
    s.set_visible(False)
ax_b.set_xticks([-100, 0, 100, 200])
ax_b.set_yticks([-50, 0, 50])
ax_b.set_xticks([-150, -50, 50, 150], minor=True)
ax_b.set_yticks([-75, -25, 25, 75], minor=True)
ax_b.grid(which='major', color='white', lw=3.6)
ax_b.grid(which='minor', color='white', lw=1.8)
ax_b.set_axisbelow(True)
ax_b.tick_params(which='major', labelsize=27, labelcolor='#4D4D4D', color='#333333', length=6, width=2, pad=6)
ax_b.tick_params(which='minor', length=0)

outlines = [coast_north_america, coast_south_america, coast_eurasia, coast_africa, coast_australia,
            coast_antarctica, coast_antarctica_base] + islands + borders
for outline in outlines:
    lons = [p[0] for p in outline]
    lats = [p[1] for p in outline]
    ax_b.plot(lons, lats, color='black', lw=3.8, solid_joinstyle='round', zorder=2)
ax_b.scatter([p[0] for p in small_islands], [p[1] for p in small_islands], s=28, color='black', lw=0, zorder=2)

ax_b.scatter([p[0] for p in named_sites], [p[1] for p in named_sites], s=560, color='red', alpha=0.35, lw=0, zorder=3)
ax_b.scatter([p[0] for p in consortium_sites], [p[1] for p in consortium_sites], s=560, color='blue', alpha=0.4, lw=0, zorder=3)

leg_b = ax_b.legend(handles=[Patch(facecolor=NAVY, edgecolor='#333366', label='Consortium'),
                             Patch(facecolor=RED, edgecolor='#884433', label='Named')],
                    loc='lower left', bbox_to_anchor=((3398 - 2520) / 1872, (1140 - 1106) / 1110), borderaxespad=0,
                    fontsize=57, handlelength=1.53, handleheight=0.68, handletextpad=1.2, borderpad=0.4,
                    labelspacing=0.25, fancybox=False, framealpha=1, edgecolor='#888888')
leg_b.get_frame().set_linewidth(3.5)

# ---------- C: gender bars
ax_c = px_axes(214, 1629, 2096, 3299)
ax_c.set_xlim(0.805, 6.2)
ax_c.set_ylim(0, 17)
group_pos = [2, 5]
ax_c.bar([g - 1 for g in group_pos], female_counts, width=1, align='edge', color=NAVY, edgecolor='black', lw=1.8, clip_on=False, label='Female')
ax_c.bar(group_pos, male_counts, width=1, align='edge', color=RED, edgecolor='black', lw=1.8, clip_on=False, label='Male')
for side in ['top', 'right', 'bottom']:
    ax_c.spines[side].set_visible(False)
ax_c.spines['left'].set_bounds(0, 15)
ax_c.spines['left'].set_linewidth(2)
ax_c.set_yticks([0, 5, 10, 15])
ax_c.tick_params(axis='y', labelsize=38, labelrotation=90, length=25, width=2, pad=30, labelcolor='#222222')
for lab in ax_c.get_yticklabels():
    lab.set_va('center')
ax_c.set_xticks(group_pos)
ax_c.set_xticklabels(gender_groups, fontsize=39, color='#222222')
ax_c.tick_params(axis='x', length=0, pad=68)
leg_c = ax_c.legend(loc='upper right', bbox_to_anchor=(1, 1), borderaxespad=0, fontsize=39, handlelength=0.8,
                    handleheight=0.72, handletextpad=0.65, borderpad=0.78, labelspacing=0.28, fancybox=False,
                    framealpha=1, edgecolor='black')
leg_c.get_frame().set_linewidth(2)

# ---------- D: collaborators
ax_d = px_axes(2597, 1588, 4530, 3355)
ax_d.set_xlim(0.07, 3.665)
ax_d.set_ylim(0, 5)
bar_pos = [0.7, 1.9, 3.1]
ax_d.bar(bar_pos, collab_log, width=1, color='#BBBBBB', edgecolor='#333333', lw=2.2, clip_on=False)
for side in ['top', 'right', 'bottom']:
    ax_d.spines[side].set_visible(False)
ax_d.spines['left'].set_bounds(0, 5)
ax_d.spines['left'].set_linewidth(2)
ax_d.spines['left'].set_color('#333333')
ax_d.set_yticks(range(6))
ax_d.tick_params(axis='y', labelsize=38, labelrotation=90, length=24.5, width=2, color='#333333', pad=32, labelcolor='#222222')
for lab in ax_d.get_yticklabels():
    lab.set_va('center')
ax_d.set_xticks(bar_pos)
ax_d.set_xticklabels(collab_labels, fontsize=40, color='#222222', linespacing=1.3)
ax_d.tick_params(axis='x', length=0, pad=10)
ax_d.set_ylabel('log(Number of Possible Collaborators)', fontsize=41, color='#222222', labelpad=56)
for pos, label in zip(bar_pos, collab_counts):
    ax_d.text(pos + 0.05, 0.085, label, fontsize=41, color='#222222', ha='center', va='center')

fig.savefig('out.png', dpi=100)
